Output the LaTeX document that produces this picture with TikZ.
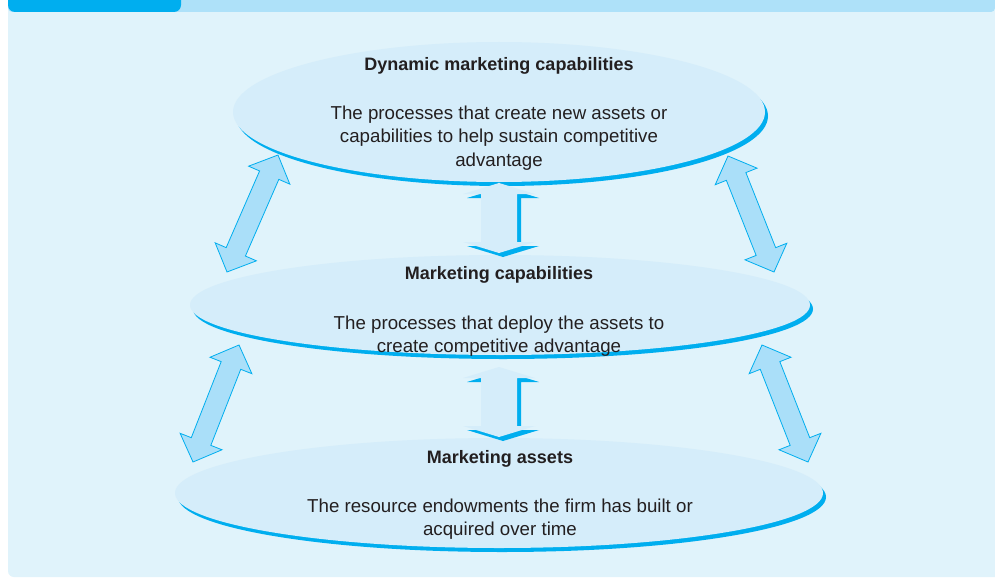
\documentclass[tikz,border=0pt]{standalone}
\usepackage{fontspec}
\setmainfont{Liberation Sans}
\usetikzlibrary{shapes.geometric,shadows,calc}
\definecolor{panelfill}{HTML}{E0F3FB}
\definecolor{bandfill}{HTML}{AEE1F9}
\definecolor{tabblue}{HTML}{00AEEF}
\definecolor{ovalfill}{HTML}{D5EDFA}
\definecolor{arrowfill}{HTML}{AADFF9}
\definecolor{ink}{HTML}{231F20}
\newcommand\fatarrow[6]{%
  \filldraw[#1] (#2) -- ($(#2)!#4!(#3)!#5!270:(#3)$) -- ($(#2)!#4!(#3)!#6!270:(#3)$)
    -- ($(#3)!#4!(#2)!#6!90:(#2)$) -- ($(#3)!#4!(#2)!#5!90:(#2)$) -- (#3)
    -- ($(#3)!#4!(#2)!#5!270:(#2)$) -- ($(#3)!#4!(#2)!#6!270:(#2)$)
    -- ($(#2)!#4!(#3)!#6!90:(#3)$) -- ($(#2)!#4!(#3)!#5!90:(#3)$) -- cycle;}
\begin{document}
\begin{tikzpicture}[x=1pt,y=-1pt,
    lens/.style={ellipse,fill=ovalfill,inner sep=0pt,
      drop shadow={shadow xshift=3pt,shadow yshift=-4pt,fill=tabblue,opacity=1}},
    heading/.style={font=\bfseries\fontsize{18}{22}\selectfont,text=ink},
    blurb/.style={font=\fontsize{18.7}{23.5}\selectfont,text=ink,align=center},
    sidearrow/.style={fill=arrowfill,draw=tabblue,line width=0.8pt,line join=miter},
    midarrow/.style={fill=ovalfill,draw=none},
    midshadow/.style={fill=tabblue,draw=none}]
  \useasboundingbox (0,0) rectangle (995,578);
  \fill[white] (0,0) rectangle (995,578);
  \fill[panelfill,rounded corners=6pt] (8,-10) rectangle (1010,577);
  \fill[bandfill,rounded corners=4pt] (8,-10) rectangle (995,12);
  \fill[tabblue,rounded corners=7pt] (8,-10) rectangle (181,12);

  \node[lens,minimum width=532pt,minimum height=140pt] (dynamic) at (499,112) {};
  \node[lens,minimum width=620pt,minimum height=100pt] (capab) at (500,305) {};
  \node[lens,minimum width=648pt,minimum height=110pt] (assets) at (499,493) {};

  \node[heading] (dynamictitle) at (499,66) {Dynamic marketing capabilities};
  \node[blurb] (dynamicbody) at (499,138) {The processes that create new assets or\\capabilities to help sustain competitive\\advantage};
  \node[heading] (capabtitle) at (499,275) {Marketing capabilities};
  \node[blurb] (capabbody) at (499,336) {The processes that deploy the assets to\\create competitive advantage};
  \node[heading] (assetstitle) at (500,459) {Marketing assets};
  \node[blurb] (assetsbody) at (500,519) {The resource endowments the firm has built or\\acquired over time};

  \coordinate (l1) at (278,155);
  \coordinate (l2) at (227,272);
  \coordinate (r1) at (728,156);
  \coordinate (r2) at (774,272);
  \coordinate (l3) at (239,345);
  \coordinate (l4) at (193,462);
  \coordinate (r3) at (762,345);
  \coordinate (r4) at (808,462);
  \coordinate (m1) at (499,183);
  \coordinate (m2) at (499,253);
  \coordinate (m3) at (499,367);
  \coordinate (m4) at (499,437);

  \fatarrow{sidearrow}{l1}{l2}{22pt}{22.5pt}{10.5pt}
  \fatarrow{sidearrow}{r1}{r2}{22pt}{22.5pt}{10.5pt}
  \fatarrow{sidearrow}{l3}{l4}{22pt}{22.5pt}{10.5pt}
  \fatarrow{sidearrow}{r3}{r4}{22pt}{22.5pt}{10.5pt}

  \begin{scope}[transform canvas={shift={(4pt,-4pt)}}]
    \fatarrow{midshadow}{m1}{m2}{11pt}{36pt}{18pt}
    \fatarrow{midshadow}{m3}{m4}{11pt}{36pt}{18pt}
  \end{scope}
  \fatarrow{midarrow}{m1}{m2}{11pt}{36pt}{18pt}
  \fatarrow{midarrow}{m3}{m4}{11pt}{36pt}{18pt}
\end{tikzpicture}
\end{document}
